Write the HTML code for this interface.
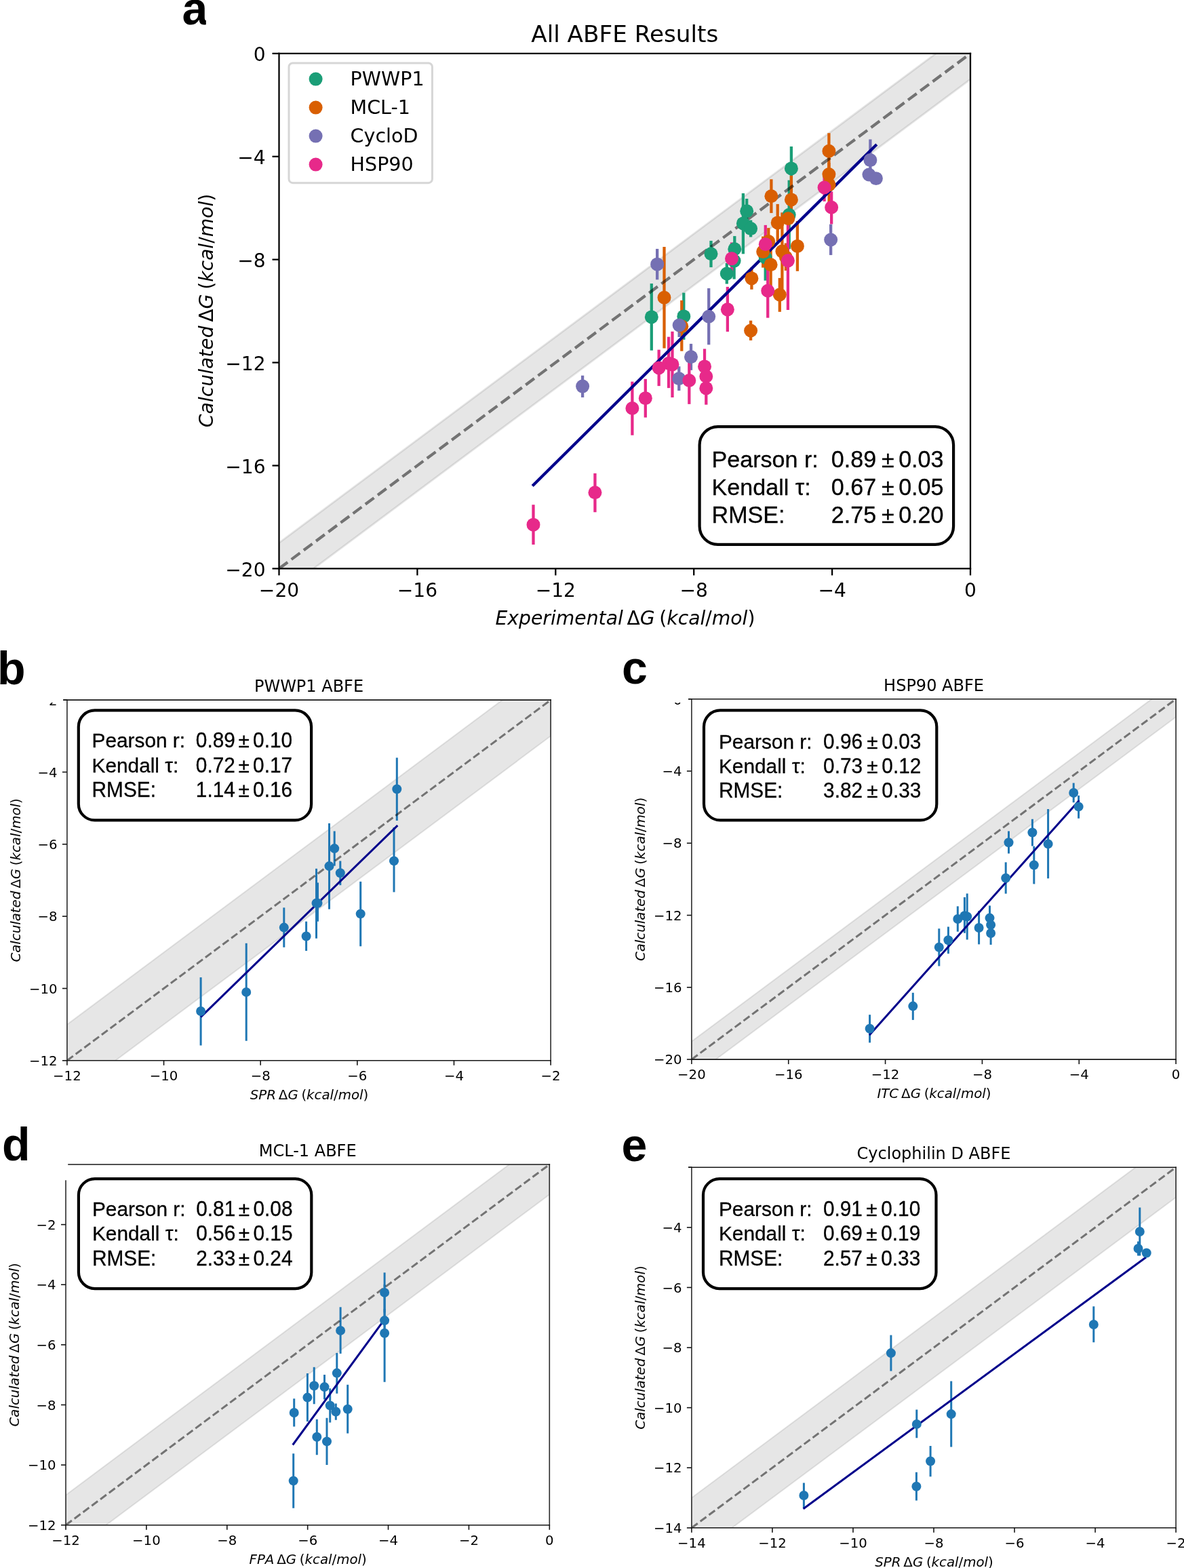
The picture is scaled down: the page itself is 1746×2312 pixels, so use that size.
<!DOCTYPE html>
<html lang="en"><head><meta charset="utf-8"><title>ABFE Results</title>
<style>html,body{margin:0;padding:0;background:#fff}svg{display:block}</style></head>
<body>
<svg width="1746" height="2312" viewBox="0 0 1746 2312">
<rect width="1746" height="2312" fill="#fff"/>
<clipPath id="clipa"><rect x="411.5" y="78.9" width="1019.5" height="759.5"/></clipPath>
<g clip-path="url(#clipa)">
<polygon points="411.5,876.38 1431,116.88 1431,40.93 411.5,800.42" fill="#808080" fill-opacity="0.2" stroke="#808080" stroke-opacity="0.2" stroke-width="2.85"/>
<line x1="960.8" x2="960.8" y1="418.1" y2="516.7" stroke="#1b9e77" stroke-width="4.28"/>
<line x1="1008.3" x2="1008.3" y1="431.7" y2="500.9" stroke="#1b9e77" stroke-width="4.28"/>
<line x1="1048.5" x2="1048.5" y1="355" y2="394.1" stroke="#1b9e77" stroke-width="4.28"/>
<line x1="1071.8" x2="1071.8" y1="387.9" y2="418.6" stroke="#1b9e77" stroke-width="4.28"/>
<line x1="1083.3" x2="1083.3" y1="348.1" y2="386.3" stroke="#1b9e77" stroke-width="4.28"/>
<line x1="1082.6" x2="1082.6" y1="357.6" y2="411.6" stroke="#1b9e77" stroke-width="4.28"/>
<line x1="1095.9" x2="1095.9" y1="285" y2="374.4" stroke="#1b9e77" stroke-width="4.28"/>
<line x1="1101.2" x2="1101.2" y1="293" y2="329.4" stroke="#1b9e77" stroke-width="4.28"/>
<line x1="1107.1" x2="1107.1" y1="324.6" y2="349.5" stroke="#1b9e77" stroke-width="4.28"/>
<line x1="1128.7" x2="1128.7" y1="346" y2="413.7" stroke="#1b9e77" stroke-width="4.28"/>
<line x1="1163.7" x2="1163.7" y1="265.7" y2="367.2" stroke="#1b9e77" stroke-width="4.28"/>
<line x1="1166.9" x2="1166.9" y1="215.9" y2="280.9" stroke="#1b9e77" stroke-width="4.28"/>
<line x1="979.5" x2="979.5" y1="364" y2="513.4" stroke="#d95f02" stroke-width="4.28"/>
<line x1="1005.3" x2="1005.3" y1="442.9" y2="517.7" stroke="#d95f02" stroke-width="4.28"/>
<line x1="1107.1" x2="1107.1" y1="472.7" y2="501.9" stroke="#d95f02" stroke-width="4.28"/>
<line x1="1108.4" x2="1108.4" y1="394.3" y2="426.8" stroke="#d95f02" stroke-width="4.28"/>
<line x1="1125.2" x2="1125.2" y1="348.6" y2="394.6" stroke="#d95f02" stroke-width="4.28"/>
<line x1="1133.3" x2="1133.3" y1="336.1" y2="376" stroke="#d95f02" stroke-width="4.28"/>
<line x1="1136.6" x2="1136.6" y1="358" y2="422" stroke="#d95f02" stroke-width="4.28"/>
<line x1="1137.4" x2="1137.4" y1="264.3" y2="314.1" stroke="#d95f02" stroke-width="4.28"/>
<line x1="1146.7" x2="1146.7" y1="300.9" y2="356" stroke="#d95f02" stroke-width="4.28"/>
<line x1="1149.8" x2="1149.8" y1="409.9" y2="459.8" stroke="#d95f02" stroke-width="4.28"/>
<line x1="1153.4" x2="1153.4" y1="313.4" y2="427" stroke="#d95f02" stroke-width="4.28"/>
<line x1="1158.9" x2="1158.9" y1="358.5" y2="399" stroke="#d95f02" stroke-width="4.28"/>
<line x1="1162.3" x2="1162.3" y1="310" y2="334" stroke="#d95f02" stroke-width="4.28"/>
<line x1="1166.9" x2="1166.9" y1="259" y2="330" stroke="#d95f02" stroke-width="4.28"/>
<line x1="1175.9" x2="1175.9" y1="326" y2="399.8" stroke="#d95f02" stroke-width="4.28"/>
<line x1="1222.4" x2="1222.4" y1="196.2" y2="249.4" stroke="#d95f02" stroke-width="4.28"/>
<line x1="1222.4" x2="1222.4" y1="240" y2="274" stroke="#d95f02" stroke-width="4.28"/>
<line x1="1222.6" x2="1222.6" y1="250" y2="298.2" stroke="#d95f02" stroke-width="4.28"/>
<line x1="859.1" x2="859.1" y1="553.72" y2="585.95" stroke="#7570b3" stroke-width="4.28"/>
<line x1="969.16" x2="969.16" y1="366.93" y2="412.36" stroke="#7570b3" stroke-width="4.28"/>
<line x1="1001.62" x2="1001.62" y1="461.22" y2="496.97" stroke="#7570b3" stroke-width="4.28"/>
<line x1="1001.27" x2="1001.27" y1="540.26" y2="576" stroke="#7570b3" stroke-width="4.28"/>
<line x1="1019" x2="1019" y1="506.91" y2="545.83" stroke="#7570b3" stroke-width="4.28"/>
<line x1="1045.21" x2="1045.21" y1="425.05" y2="508.28" stroke="#7570b3" stroke-width="4.28"/>
<line x1="1225.16" x2="1225.16" y1="330.67" y2="376.1" stroke="#7570b3" stroke-width="4.28"/>
<line x1="1283.4" x2="1283.4" y1="205.6" y2="266.63" stroke="#7570b3" stroke-width="4.28"/>
<line x1="1281.43" x2="1281.43" y1="248.46" y2="266.63" stroke="#7570b3" stroke-width="4.28"/>
<line x1="1291.88" x2="1291.88" y1="259.69" y2="266.55" stroke="#7570b3" stroke-width="4.28"/>
<line x1="786.5" x2="786.5" y1="744.21" y2="803.1" stroke="#e7298a" stroke-width="4.28"/>
<line x1="877.43" x2="877.43" y1="697.91" y2="755.22" stroke="#e7298a" stroke-width="4.28"/>
<line x1="932.38" x2="932.38" y1="562.7" y2="641.74" stroke="#e7298a" stroke-width="4.28"/>
<line x1="951.8" x2="951.8" y1="558.84" y2="615.58" stroke="#e7298a" stroke-width="4.28"/>
<line x1="971.64" x2="971.64" y1="515.68" y2="569.13" stroke="#e7298a" stroke-width="4.28"/>
<line x1="986.06" x2="986.06" y1="496.67" y2="572.13" stroke="#e7298a" stroke-width="4.28"/>
<line x1="991.48" x2="991.48" y1="488.81" y2="586" stroke="#e7298a" stroke-width="4.28"/>
<line x1="1016.32" x2="1016.32" y1="525.4" y2="595.86" stroke="#e7298a" stroke-width="4.28"/>
<line x1="1039.02" x2="1039.02" y1="514.39" y2="566.41" stroke="#e7298a" stroke-width="4.28"/>
<line x1="1041.3" x2="1041.3" y1="535.26" y2="574.7" stroke="#e7298a" stroke-width="4.28"/>
<line x1="1041.3" x2="1041.3" y1="548.12" y2="596.71" stroke="#e7298a" stroke-width="4.28"/>
<line x1="1072.85" x2="1072.85" y1="422.92" y2="489.09" stroke="#e7298a" stroke-width="4.28"/>
<line x1="1078.99" x2="1078.99" y1="357.46" y2="404.62" stroke="#e7298a" stroke-width="4.28"/>
<line x1="1128.8" x2="1128.8" y1="331.88" y2="388.62" stroke="#e7298a" stroke-width="4.28"/>
<line x1="1132.23" x2="1132.23" y1="389.19" y2="468.65" stroke="#e7298a" stroke-width="4.28"/>
<line x1="1161.92" x2="1161.92" y1="311.01" y2="457.08" stroke="#e7298a" stroke-width="4.28"/>
<line x1="1215.59" x2="1215.59" y1="255.7" y2="297" stroke="#e7298a" stroke-width="4.28"/>
<line x1="1226.16" x2="1226.16" y1="282.42" y2="330.45" stroke="#e7298a" stroke-width="4.28"/>
<line x1="411.5" y1="838.4" x2="1431" y2="78.9" stroke="#000" stroke-opacity="0.5" stroke-width="4.28" stroke-dasharray="15.83 6.85"/>
<line x1="785.2" y1="716.6" x2="1292.8" y2="213" stroke="#00008b" stroke-width="4.28"/>
<circle cx="960.8" cy="467.4" r="9.99" fill="#1b9e77"/>
<circle cx="1008.3" cy="466.4" r="9.99" fill="#1b9e77"/>
<circle cx="1048.5" cy="374.3" r="9.99" fill="#1b9e77"/>
<circle cx="1071.8" cy="403.5" r="9.99" fill="#1b9e77"/>
<circle cx="1083.3" cy="367.2" r="9.99" fill="#1b9e77"/>
<circle cx="1082.6" cy="384.6" r="9.99" fill="#1b9e77"/>
<circle cx="1095.9" cy="329.4" r="9.99" fill="#1b9e77"/>
<circle cx="1101.2" cy="311.2" r="9.99" fill="#1b9e77"/>
<circle cx="1107.1" cy="337.1" r="9.99" fill="#1b9e77"/>
<circle cx="1128.7" cy="379.7" r="9.99" fill="#1b9e77"/>
<circle cx="1163.7" cy="316.7" r="9.99" fill="#1b9e77"/>
<circle cx="1166.9" cy="248.4" r="9.99" fill="#1b9e77"/>
<circle cx="979.5" cy="438.8" r="9.99" fill="#d95f02"/>
<circle cx="1005.3" cy="481.3" r="9.99" fill="#d95f02"/>
<circle cx="1107.1" cy="487.5" r="9.99" fill="#d95f02"/>
<circle cx="1108.4" cy="410.4" r="9.99" fill="#d95f02"/>
<circle cx="1125.2" cy="371.1" r="9.99" fill="#d95f02"/>
<circle cx="1133.3" cy="356" r="9.99" fill="#d95f02"/>
<circle cx="1136.6" cy="390.2" r="9.99" fill="#d95f02"/>
<circle cx="1137.4" cy="289.3" r="9.99" fill="#d95f02"/>
<circle cx="1146.7" cy="328.4" r="9.99" fill="#d95f02"/>
<circle cx="1149.8" cy="434.5" r="9.99" fill="#d95f02"/>
<circle cx="1153.4" cy="370.6" r="9.99" fill="#d95f02"/>
<circle cx="1158.9" cy="379.2" r="9.99" fill="#d95f02"/>
<circle cx="1162.3" cy="322.2" r="9.99" fill="#d95f02"/>
<circle cx="1166.9" cy="294.4" r="9.99" fill="#d95f02"/>
<circle cx="1175.9" cy="362.9" r="9.99" fill="#d95f02"/>
<circle cx="1222.4" cy="222.8" r="9.99" fill="#d95f02"/>
<circle cx="1222.4" cy="257.1" r="9.99" fill="#d95f02"/>
<circle cx="1222.6" cy="272.4" r="9.99" fill="#d95f02"/>
<circle cx="859.1" cy="569.57" r="9.99" fill="#7570b3"/>
<circle cx="969.16" cy="389.64" r="9.99" fill="#7570b3"/>
<circle cx="1001.62" cy="479.48" r="9.99" fill="#7570b3"/>
<circle cx="1001.27" cy="558.26" r="9.99" fill="#7570b3"/>
<circle cx="1019" cy="526.28" r="9.99" fill="#7570b3"/>
<circle cx="1045.21" cy="466.79" r="9.99" fill="#7570b3"/>
<circle cx="1225.16" cy="353.55" r="9.99" fill="#7570b3"/>
<circle cx="1283.4" cy="236.11" r="9.99" fill="#7570b3"/>
<circle cx="1281.43" cy="257.55" r="9.99" fill="#7570b3"/>
<circle cx="1291.88" cy="263.12" r="9.99" fill="#7570b3"/>
<circle cx="786.5" cy="773.66" r="9.99" fill="#e7298a"/>
<circle cx="877.43" cy="726.2" r="9.99" fill="#e7298a"/>
<circle cx="932.38" cy="602" r="9.99" fill="#e7298a"/>
<circle cx="951.8" cy="587.14" r="9.99" fill="#e7298a"/>
<circle cx="971.64" cy="542.4" r="9.99" fill="#e7298a"/>
<circle cx="986.06" cy="535.69" r="9.99" fill="#e7298a"/>
<circle cx="991.48" cy="537.4" r="9.99" fill="#e7298a"/>
<circle cx="1016.32" cy="560.98" r="9.99" fill="#e7298a"/>
<circle cx="1039.02" cy="540.4" r="9.99" fill="#e7298a"/>
<circle cx="1041.3" cy="554.98" r="9.99" fill="#e7298a"/>
<circle cx="1041.3" cy="572.42" r="9.99" fill="#e7298a"/>
<circle cx="1072.85" cy="456.36" r="9.99" fill="#e7298a"/>
<circle cx="1078.99" cy="381.33" r="9.99" fill="#e7298a"/>
<circle cx="1128.8" cy="360.18" r="9.99" fill="#e7298a"/>
<circle cx="1132.23" cy="428.78" r="9.99" fill="#e7298a"/>
<circle cx="1161.92" cy="384.33" r="9.99" fill="#e7298a"/>
<circle cx="1215.59" cy="276.56" r="9.99" fill="#e7298a"/>
<circle cx="1226.16" cy="305.72" r="9.99" fill="#e7298a"/>
</g>
<g stroke="#000" stroke-width="2.28" fill="none">
<line x1="411.5" y1="77.76" x2="411.5" y2="839.54" stroke="#000"/>
<line x1="1431" y1="77.76" x2="1431" y2="839.54" stroke="#000"/>
<line x1="410.36" y1="78.9" x2="1432.14" y2="78.9"/>
<line x1="410.36" y1="838.4" x2="1432.14" y2="838.4"/>
</g>
<g stroke="#000" stroke-width="2.28">
<line x1="411.5" y1="838.4" x2="411.5" y2="848.39"/>
<line x1="615.4" y1="838.4" x2="615.4" y2="848.39"/>
<line x1="819.3" y1="838.4" x2="819.3" y2="848.39"/>
<line x1="1023.2" y1="838.4" x2="1023.2" y2="848.39"/>
<line x1="1227.1" y1="838.4" x2="1227.1" y2="848.39"/>
<line x1="1431" y1="838.4" x2="1431" y2="848.39"/>
<line x1="401.51" y1="838.4" x2="411.5" y2="838.4"/>
<line x1="401.51" y1="686.5" x2="411.5" y2="686.5"/>
<line x1="401.51" y1="534.6" x2="411.5" y2="534.6"/>
<line x1="401.51" y1="382.7" x2="411.5" y2="382.7"/>
<line x1="401.51" y1="230.8" x2="411.5" y2="230.8"/>
<line x1="401.51" y1="78.9" x2="411.5" y2="78.9"/>
</g>
<g font-family="'DejaVu Sans','Liberation Sans',sans-serif" font-size="28.53" fill="#000">
<text transform="translate(411.5,880.15) scale(0.985,1)" text-anchor="middle">−20</text>
<text transform="translate(615.4,880.15) scale(0.985,1)" text-anchor="middle">−16</text>
<text transform="translate(819.3,880.15) scale(0.985,1)" text-anchor="middle">−12</text>
<text transform="translate(1023.2,880.15) scale(0.985,1)" text-anchor="middle">−8</text>
<text transform="translate(1227.1,880.15) scale(0.985,1)" text-anchor="middle">−4</text>
<text transform="translate(1431,880.15) scale(0.985,1)" text-anchor="middle">0</text>
<text transform="translate(391.53,849.64) scale(0.985,1)" text-anchor="end">−20</text>
<text transform="translate(391.53,697.74) scale(0.985,1)" text-anchor="end">−16</text>
<text transform="translate(391.53,545.84) scale(0.985,1)" text-anchor="end">−12</text>
<text transform="translate(391.53,393.94) scale(0.985,1)" text-anchor="end">−8</text>
<text transform="translate(391.53,242.04) scale(0.985,1)" text-anchor="end">−4</text>
<text transform="translate(391.53,90.14) scale(0.985,1)" text-anchor="end">0</text>
</g>
<text x="921.25" y="61.78" text-anchor="middle" font-family="'DejaVu Sans','Liberation Sans',sans-serif" font-size="34.24" fill="#000">All ABFE Results</text>
<text x="922" y="920.9" text-anchor="middle" font-family="'DejaVu Sans','Liberation Sans',sans-serif" font-size="28.24" fill="#000" style="font-kerning:none"><tspan font-style="italic">Experimental </tspan><tspan dx="-3.33">Δ</tspan><tspan font-style="italic">G </tspan><tspan dx="-2.34">(</tspan><tspan font-style="italic">kcal</tspan><tspan>/</tspan><tspan font-style="italic">mol</tspan><tspan>)</tspan></text>
<text transform="translate(313.5,457.9) rotate(-90)" text-anchor="middle" font-family="'DejaVu Sans','Liberation Sans',sans-serif" font-size="28.24" fill="#000" style="font-kerning:none"><tspan font-style="italic">Calculated </tspan><tspan dx="-3.33">Δ</tspan><tspan font-style="italic">G </tspan><tspan dx="-2.34">(</tspan><tspan font-style="italic">kcal</tspan><tspan>/</tspan><tspan font-style="italic">mol</tspan><tspan>)</tspan></text>
<rect x="426.0" y="93.0" width="211.4" height="176.7" rx="5.7" ry="5.7" fill="#fff" fill-opacity="0.8" stroke="#ccc" stroke-opacity="0.8" stroke-width="3.0"/>
<circle cx="465.6" cy="116.6" r="9.99" fill="#1b9e77"/>
<text x="516.6" y="125.9" font-family="'DejaVu Sans','Liberation Sans',sans-serif" font-size="28.53" fill="#000">PWWP1</text>
<circle cx="465.6" cy="158.6" r="9.99" fill="#d95f02"/>
<text x="516.6" y="167.9" font-family="'DejaVu Sans','Liberation Sans',sans-serif" font-size="28.53" fill="#000">MCL-1</text>
<circle cx="465.6" cy="200.6" r="9.99" fill="#7570b3"/>
<text x="516.6" y="209.9" font-family="'DejaVu Sans','Liberation Sans',sans-serif" font-size="28.53" fill="#000">CycloD</text>
<circle cx="465.6" cy="242.6" r="9.99" fill="#e7298a"/>
<text x="516.6" y="251.9" font-family="'DejaVu Sans','Liberation Sans',sans-serif" font-size="28.53" fill="#000">HSP90</text>
<rect x="1031.6" y="629.1" width="374.5" height="173.8" rx="27" ry="27" fill="#fff" stroke="#000" stroke-width="4.2"/>
<g font-family="'Liberation Sans','DejaVu Sans',sans-serif" font-size="34.1" fill="#000" stroke="#000" stroke-width="0.3" stroke-linejoin="round">
<text x="1049.6" y="689.2">Pearson r:</text>
<text transform="translate(1292.1,689.2) scale(1,1.04)" text-anchor="end">0.89</text>
<text x="1309.4" y="689.2" text-anchor="middle">±</text>
<text transform="translate(1391.5,689.2) scale(1,1.04)" text-anchor="end">0.03</text>
<text x="1049.6" y="730.1">Kendall τ:</text>
<text transform="translate(1292.1,730.1) scale(1,1.04)" text-anchor="end">0.67</text>
<text x="1309.4" y="730.1" text-anchor="middle">±</text>
<text transform="translate(1391.5,730.1) scale(1,1.04)" text-anchor="end">0.05</text>
<text transform="translate(1049.6,771) scale(1,1.04)">RMSE:</text>
<text transform="translate(1292.1,771) scale(1,1.04)" text-anchor="end">2.75</text>
<text x="1309.4" y="771" text-anchor="middle">±</text>
<text transform="translate(1391.5,771) scale(1,1.04)" text-anchor="end">0.20</text>
</g>
<clipPath id="pla"><rect x="0" y="0" width="303.8" height="60"/></clipPath>
<text x="268.4" y="36.15" font-family="'Liberation Sans','DejaVu Sans',sans-serif" font-weight="bold" font-size="68" fill="#000" clip-path="url(#pla)">a</text>
<clipPath id="clipb"><rect x="98.9" y="1032.1" width="713.2" height="531.7"/></clipPath>
<g clip-path="url(#clipb)">
<polygon points="98.9,1616.97 812.1,1085.27 812.1,978.93 98.9,1510.63" fill="#808080" fill-opacity="0.2" stroke="#808080" stroke-opacity="0.2" stroke-width="2"/>
<line x1="296.1" x2="296.1" y1="1441.1" y2="1541.5" stroke="#1f77b4" stroke-width="3"/>
<line x1="363.2" x2="363.2" y1="1390.8" y2="1534.8" stroke="#1f77b4" stroke-width="3"/>
<line x1="418.8" x2="418.8" y1="1338.3" y2="1396.8" stroke="#1f77b4" stroke-width="3"/>
<line x1="451.6" x2="451.6" y1="1358.7" y2="1402" stroke="#1f77b4" stroke-width="3"/>
<line x1="466.5" x2="466.5" y1="1280.8" y2="1383.7" stroke="#1f77b4" stroke-width="3"/>
<line x1="468.5" x2="468.5" y1="1301.5" y2="1358.7" stroke="#1f77b4" stroke-width="3"/>
<line x1="485.5" x2="485.5" y1="1214" y2="1340.6" stroke="#1f77b4" stroke-width="3"/>
<line x1="493.2" x2="493.2" y1="1225.6" y2="1276.7" stroke="#1f77b4" stroke-width="3"/>
<line x1="501.8" x2="501.8" y1="1269.4" y2="1305.2" stroke="#1f77b4" stroke-width="3"/>
<line x1="531.7" x2="531.7" y1="1299.9" y2="1395.3" stroke="#1f77b4" stroke-width="3"/>
<line x1="581" x2="581" y1="1220.1" y2="1315.4" stroke="#1f77b4" stroke-width="3"/>
<line x1="585.3" x2="585.3" y1="1117.3" y2="1209.9" stroke="#1f77b4" stroke-width="3"/>
<line x1="98.9" y1="1563.8" x2="812.1" y2="1032.1" stroke="#000" stroke-opacity="0.5" stroke-width="3" stroke-dasharray="11.1 4.8"/>
<line x1="296.1" y1="1499.6" x2="586.3" y2="1217.1" stroke="#00008b" stroke-width="3"/>
<circle cx="296.1" cy="1491" r="7" fill="#1f77b4"/>
<circle cx="363.2" cy="1462.9" r="7" fill="#1f77b4"/>
<circle cx="418.8" cy="1367.6" r="7" fill="#1f77b4"/>
<circle cx="451.6" cy="1380.5" r="7" fill="#1f77b4"/>
<circle cx="466.5" cy="1331.8" r="7" fill="#1f77b4"/>
<circle cx="468.5" cy="1331.8" r="7" fill="#1f77b4"/>
<circle cx="485.5" cy="1277.1" r="7" fill="#1f77b4"/>
<circle cx="493.2" cy="1251.1" r="7" fill="#1f77b4"/>
<circle cx="501.8" cy="1287.3" r="7" fill="#1f77b4"/>
<circle cx="531.7" cy="1347.4" r="7" fill="#1f77b4"/>
<circle cx="581" cy="1269.4" r="7" fill="#1f77b4"/>
<circle cx="585.3" cy="1163.5" r="7" fill="#1f77b4"/>
</g>
<clipPath id="toplabb"><rect x="0" y="1036.0" width="98.9" height="40"/></clipPath>
<g stroke="#161616" stroke-width="1.6" fill="none">
<line x1="98.9" y1="1031.3" x2="98.9" y2="1564.6" stroke="#2b2b2b"/>
<line x1="812.1" y1="1031.3" x2="812.1" y2="1564.6" stroke="#2b2b2b"/>
<line x1="93.2" y1="1032.1" x2="812.9" y2="1032.1"/>
<line x1="98.1" y1="1563.8" x2="812.9" y2="1563.8"/>
</g>
<g stroke="#161616" stroke-width="1.6">
<line x1="98.9" y1="1563.8" x2="98.9" y2="1570.8"/>
<line x1="241.54" y1="1563.8" x2="241.54" y2="1570.8"/>
<line x1="384.18" y1="1563.8" x2="384.18" y2="1570.8"/>
<line x1="526.82" y1="1563.8" x2="526.82" y2="1570.8"/>
<line x1="669.46" y1="1563.8" x2="669.46" y2="1570.8"/>
<line x1="812.1" y1="1563.8" x2="812.1" y2="1570.8"/>
<line x1="91.9" y1="1563.8" x2="98.9" y2="1563.8"/>
<line x1="91.9" y1="1457.46" x2="98.9" y2="1457.46"/>
<line x1="91.9" y1="1351.12" x2="98.9" y2="1351.12"/>
<line x1="91.9" y1="1244.78" x2="98.9" y2="1244.78"/>
<line x1="91.9" y1="1138.44" x2="98.9" y2="1138.44"/>
<line x1="93.2" y1="1032.1" x2="98.9" y2="1032.1"/>
</g>
<g font-family="'DejaVu Sans','Liberation Sans',sans-serif" font-size="20" fill="#000">
<text transform="translate(98.9,1593.1) scale(0.985,1)" text-anchor="middle">−12</text>
<text transform="translate(241.54,1593.1) scale(0.985,1)" text-anchor="middle">−10</text>
<text transform="translate(384.18,1593.1) scale(0.985,1)" text-anchor="middle">−8</text>
<text transform="translate(526.82,1593.1) scale(0.985,1)" text-anchor="middle">−6</text>
<text transform="translate(669.46,1593.1) scale(0.985,1)" text-anchor="middle">−4</text>
<text transform="translate(812.1,1593.1) scale(0.985,1)" text-anchor="middle">−2</text>
<text transform="translate(84.5,1571) scale(0.985,1)" text-anchor="end">−12</text>
<text transform="translate(84.5,1464.66) scale(0.985,1)" text-anchor="end">−10</text>
<text transform="translate(84.5,1358.32) scale(0.985,1)" text-anchor="end">−8</text>
<text transform="translate(84.5,1251.98) scale(0.985,1)" text-anchor="end">−6</text>
<text transform="translate(84.5,1145.64) scale(0.985,1)" text-anchor="end">−4</text>
<g clip-path="url(#toplabb)"><text transform="translate(84.5,1040.1) scale(0.985,1)" text-anchor="end">−2</text></g>
</g>
<text x="455.5" y="1020.1" text-anchor="middle" font-family="'DejaVu Sans','Liberation Sans',sans-serif" font-size="24" fill="#000">PWWP1 ABFE</text>
<text x="456" y="1620.6" text-anchor="middle" font-family="'DejaVu Sans','Liberation Sans',sans-serif" font-size="19.8" fill="#000" style="font-kerning:none"><tspan font-style="italic">SPR </tspan><tspan dx="-2.33">Δ</tspan><tspan font-style="italic">G </tspan><tspan dx="-1.64">(</tspan><tspan font-style="italic">kcal</tspan><tspan>/</tspan><tspan font-style="italic">mol</tspan><tspan>)</tspan></text>
<text transform="translate(29.9,1297.95) rotate(-90)" text-anchor="middle" font-family="'DejaVu Sans','Liberation Sans',sans-serif" font-size="19.8" fill="#000" style="font-kerning:none"><tspan font-style="italic">Calculated </tspan><tspan dx="-2.33">Δ</tspan><tspan font-style="italic">G </tspan><tspan dx="-1.64">(</tspan><tspan font-style="italic">kcal</tspan><tspan>/</tspan><tspan font-style="italic">mol</tspan><tspan>)</tspan></text>
<rect x="115.8" y="1047.4" width="343.3" height="162" rx="24" ry="24" fill="#fff" stroke="#000" stroke-width="4.2"/>
<g font-family="'Liberation Sans','DejaVu Sans',sans-serif" font-size="29.8" fill="#000" stroke="#000" stroke-width="0.3" stroke-linejoin="round">
<text x="135.6" y="1102.2">Pearson r:</text>
<text transform="translate(346.8,1102.2) scale(1,1.04)" text-anchor="end">0.89</text>
<text x="359.8" y="1102.2" text-anchor="middle">±</text>
<text transform="translate(431.1,1102.2) scale(1,1.04)" text-anchor="end">0.10</text>
<text x="135.6" y="1138.55">Kendall τ:</text>
<text transform="translate(346.8,1138.55) scale(1,1.04)" text-anchor="end">0.72</text>
<text x="359.8" y="1138.55" text-anchor="middle">±</text>
<text transform="translate(431.1,1138.55) scale(1,1.04)" text-anchor="end">0.17</text>
<text transform="translate(135.6,1174.9) scale(1,1.04)">RMSE:</text>
<text transform="translate(346.8,1174.9) scale(1,1.04)" text-anchor="end">1.14</text>
<text x="359.8" y="1174.9" text-anchor="middle">±</text>
<text transform="translate(431.1,1174.9) scale(1,1.04)" text-anchor="end">0.16</text>
</g>
<clipPath id="clipc"><rect x="1019.9" y="1030.7" width="714.2" height="531.4"/></clipPath>
<g clip-path="url(#clipc)">
<polygon points="1019.9,1588.67 1734.1,1057.27 1734.1,1004.13 1019.9,1535.53" fill="#808080" fill-opacity="0.2" stroke="#808080" stroke-opacity="0.2" stroke-width="2"/>
<line x1="1282.6" x2="1282.6" y1="1496.2" y2="1537.4" stroke="#1f77b4" stroke-width="3"/>
<line x1="1346.3" x2="1346.3" y1="1463.8" y2="1503.9" stroke="#1f77b4" stroke-width="3"/>
<line x1="1384.8" x2="1384.8" y1="1369.2" y2="1424.5" stroke="#1f77b4" stroke-width="3"/>
<line x1="1398.4" x2="1398.4" y1="1366.5" y2="1406.2" stroke="#1f77b4" stroke-width="3"/>
<line x1="1412.3" x2="1412.3" y1="1336.3" y2="1373.7" stroke="#1f77b4" stroke-width="3"/>
<line x1="1422.4" x2="1422.4" y1="1323" y2="1375.8" stroke="#1f77b4" stroke-width="3"/>
<line x1="1426.2" x2="1426.2" y1="1317.5" y2="1385.5" stroke="#1f77b4" stroke-width="3"/>
<line x1="1443.6" x2="1443.6" y1="1343.1" y2="1392.4" stroke="#1f77b4" stroke-width="3"/>
<line x1="1459.5" x2="1459.5" y1="1335.4" y2="1371.8" stroke="#1f77b4" stroke-width="3"/>
<line x1="1461.1" x2="1461.1" y1="1350" y2="1377.6" stroke="#1f77b4" stroke-width="3"/>
<line x1="1461.1" x2="1461.1" y1="1359" y2="1393" stroke="#1f77b4" stroke-width="3"/>
<line x1="1483.2" x2="1483.2" y1="1271.4" y2="1317.7" stroke="#1f77b4" stroke-width="3"/>
<line x1="1487.5" x2="1487.5" y1="1225.6" y2="1258.6" stroke="#1f77b4" stroke-width="3"/>
<line x1="1522.4" x2="1522.4" y1="1207.7" y2="1247.4" stroke="#1f77b4" stroke-width="3"/>
<line x1="1524.8" x2="1524.8" y1="1247.8" y2="1303.4" stroke="#1f77b4" stroke-width="3"/>
<line x1="1545.6" x2="1545.6" y1="1193.1" y2="1295.3" stroke="#1f77b4" stroke-width="3"/>
<line x1="1583.2" x2="1583.2" y1="1154.4" y2="1183.3" stroke="#1f77b4" stroke-width="3"/>
<line x1="1590.6" x2="1590.6" y1="1173.1" y2="1206.7" stroke="#1f77b4" stroke-width="3"/>
<line x1="1019.9" y1="1562.1" x2="1734.1" y2="1030.7" stroke="#000" stroke-opacity="0.5" stroke-width="3" stroke-dasharray="11.1 4.8"/>
<line x1="1282" y1="1526.3" x2="1591.4" y2="1180.2" stroke="#00008b" stroke-width="3"/>
<circle cx="1282.6" cy="1516.8" r="7" fill="#1f77b4"/>
<circle cx="1346.3" cy="1483.6" r="7" fill="#1f77b4"/>
<circle cx="1384.8" cy="1396.7" r="7" fill="#1f77b4"/>
<circle cx="1398.4" cy="1386.3" r="7" fill="#1f77b4"/>
<circle cx="1412.3" cy="1355" r="7" fill="#1f77b4"/>
<circle cx="1422.4" cy="1350.3" r="7" fill="#1f77b4"/>
<circle cx="1426.2" cy="1351.5" r="7" fill="#1f77b4"/>
<circle cx="1443.6" cy="1368" r="7" fill="#1f77b4"/>
<circle cx="1459.5" cy="1353.6" r="7" fill="#1f77b4"/>
<circle cx="1461.1" cy="1363.8" r="7" fill="#1f77b4"/>
<circle cx="1461.1" cy="1376" r="7" fill="#1f77b4"/>
<circle cx="1483.2" cy="1294.8" r="7" fill="#1f77b4"/>
<circle cx="1487.5" cy="1242.3" r="7" fill="#1f77b4"/>
<circle cx="1522.4" cy="1227.5" r="7" fill="#1f77b4"/>
<circle cx="1524.8" cy="1275.5" r="7" fill="#1f77b4"/>
<circle cx="1545.6" cy="1244.4" r="7" fill="#1f77b4"/>
<circle cx="1583.2" cy="1169" r="7" fill="#1f77b4"/>
<circle cx="1590.6" cy="1189.4" r="7" fill="#1f77b4"/>
</g>
<clipPath id="toplabc"><rect x="900" y="1036.1" width="119.9" height="40"/></clipPath>
<g stroke="#161616" stroke-width="1.6" fill="none">
<line x1="1019.9" y1="1029.9" x2="1019.9" y2="1562.9" stroke="#2b2b2b"/>
<line x1="1734.1" y1="1029.9" x2="1734.1" y2="1562.9" stroke="#2b2b2b"/>
<line x1="1015" y1="1030.7" x2="1734.9" y2="1030.7"/>
<line x1="1019.1" y1="1562.1" x2="1734.9" y2="1562.1"/>
</g>
<g stroke="#161616" stroke-width="1.6">
<line x1="1019.9" y1="1562.1" x2="1019.9" y2="1569.1"/>
<line x1="1162.74" y1="1562.1" x2="1162.74" y2="1569.1"/>
<line x1="1305.58" y1="1562.1" x2="1305.58" y2="1569.1"/>
<line x1="1448.42" y1="1562.1" x2="1448.42" y2="1569.1"/>
<line x1="1591.26" y1="1562.1" x2="1591.26" y2="1569.1"/>
<line x1="1734.1" y1="1562.1" x2="1734.1" y2="1569.1"/>
<line x1="1012.9" y1="1562.1" x2="1019.9" y2="1562.1"/>
<line x1="1012.9" y1="1455.82" x2="1019.9" y2="1455.82"/>
<line x1="1012.9" y1="1349.54" x2="1019.9" y2="1349.54"/>
<line x1="1012.9" y1="1243.26" x2="1019.9" y2="1243.26"/>
<line x1="1012.9" y1="1136.98" x2="1019.9" y2="1136.98"/>
<line x1="1015" y1="1030.7" x2="1019.9" y2="1030.7"/>
</g>
<g font-family="'DejaVu Sans','Liberation Sans',sans-serif" font-size="20" fill="#000">
<text transform="translate(1019.9,1591.4) scale(0.985,1)" text-anchor="middle">−20</text>
<text transform="translate(1162.74,1591.4) scale(0.985,1)" text-anchor="middle">−16</text>
<text transform="translate(1305.58,1591.4) scale(0.985,1)" text-anchor="middle">−12</text>
<text transform="translate(1448.42,1591.4) scale(0.985,1)" text-anchor="middle">−8</text>
<text transform="translate(1591.26,1591.4) scale(0.985,1)" text-anchor="middle">−4</text>
<text transform="translate(1734.1,1591.4) scale(0.985,1)" text-anchor="middle">0</text>
<text transform="translate(1005.5,1569.3) scale(0.985,1)" text-anchor="end">−20</text>
<text transform="translate(1005.5,1463.02) scale(0.985,1)" text-anchor="end">−16</text>
<text transform="translate(1005.5,1356.74) scale(0.985,1)" text-anchor="end">−12</text>
<text transform="translate(1005.5,1250.46) scale(0.985,1)" text-anchor="end">−8</text>
<text transform="translate(1005.5,1144.18) scale(0.985,1)" text-anchor="end">−4</text>
<g clip-path="url(#toplabc)"><text transform="translate(1005.5,1038.7) scale(0.985,1)" text-anchor="end">0</text></g>
</g>
<text x="1377" y="1018.7" text-anchor="middle" font-family="'DejaVu Sans','Liberation Sans',sans-serif" font-size="24" fill="#000">HSP90 ABFE</text>
<text x="1377.5" y="1618.9" text-anchor="middle" font-family="'DejaVu Sans','Liberation Sans',sans-serif" font-size="19.8" fill="#000" style="font-kerning:none"><tspan font-style="italic">ITC </tspan><tspan dx="-2.33">Δ</tspan><tspan font-style="italic">G </tspan><tspan dx="-1.64">(</tspan><tspan font-style="italic">kcal</tspan><tspan>/</tspan><tspan font-style="italic">mol</tspan><tspan>)</tspan></text>
<text transform="translate(950.9,1296.4) rotate(-90)" text-anchor="middle" font-family="'DejaVu Sans','Liberation Sans',sans-serif" font-size="19.8" fill="#000" style="font-kerning:none"><tspan font-style="italic">Calculated </tspan><tspan dx="-2.33">Δ</tspan><tspan font-style="italic">G </tspan><tspan dx="-1.64">(</tspan><tspan font-style="italic">kcal</tspan><tspan>/</tspan><tspan font-style="italic">mol</tspan><tspan>)</tspan></text>
<rect x="1038" y="1047.4" width="343.3" height="162" rx="24" ry="24" fill="#fff" stroke="#000" stroke-width="4.2"/>
<g font-family="'Liberation Sans','DejaVu Sans',sans-serif" font-size="29.8" fill="#000" stroke="#000" stroke-width="0.3" stroke-linejoin="round">
<text x="1060" y="1103.5">Pearson r:</text>
<text transform="translate(1272.1,1103.5) scale(1,1.04)" text-anchor="end">0.96</text>
<text x="1286.5" y="1103.5" text-anchor="middle">±</text>
<text transform="translate(1358.3,1103.5) scale(1,1.04)" text-anchor="end">0.03</text>
<text x="1060" y="1139.85">Kendall τ:</text>
<text transform="translate(1272.1,1139.85) scale(1,1.04)" text-anchor="end">0.73</text>
<text x="1286.5" y="1139.85" text-anchor="middle">±</text>
<text transform="translate(1358.3,1139.85) scale(1,1.04)" text-anchor="end">0.12</text>
<text transform="translate(1060,1176.2) scale(1,1.04)">RMSE:</text>
<text transform="translate(1272.1,1176.2) scale(1,1.04)" text-anchor="end">3.82</text>
<text x="1286.5" y="1176.2" text-anchor="middle">±</text>
<text transform="translate(1358.3,1176.2) scale(1,1.04)" text-anchor="end">0.33</text>
</g>
<clipPath id="clipd"><rect x="97" y="1717" width="713.3" height="531.7"/></clipPath>
<g clip-path="url(#clipd)">
<polygon points="97,2293.01 810.3,1761.31 810.3,1672.69 97,2204.39" fill="#808080" fill-opacity="0.2" stroke="#808080" stroke-opacity="0.2" stroke-width="2"/>
<line x1="432.7" x2="432.7" y1="2143.3" y2="2223.7" stroke="#1f77b4" stroke-width="3"/>
<line x1="433.7" x2="433.7" y1="2062.3" y2="2103.6" stroke="#1f77b4" stroke-width="3"/>
<line x1="453.4" x2="453.4" y1="2025" y2="2095.9" stroke="#1f77b4" stroke-width="3"/>
<line x1="463.2" x2="463.2" y1="2015.8" y2="2070.3" stroke="#1f77b4" stroke-width="3"/>
<line x1="467.3" x2="467.3" y1="2092.8" y2="2145.3" stroke="#1f77b4" stroke-width="3"/>
<line x1="478.5" x2="478.5" y1="2027" y2="2063.5" stroke="#1f77b4" stroke-width="3"/>
<line x1="482" x2="482" y1="2090.8" y2="2160" stroke="#1f77b4" stroke-width="3"/>
<line x1="486.7" x2="486.7" y1="2047.3" y2="2097.6" stroke="#1f77b4" stroke-width="3"/>
<line x1="495.3" x2="495.3" y1="2069.6" y2="2093.7" stroke="#1f77b4" stroke-width="3"/>
<line x1="496.8" x2="496.8" y1="1995" y2="2054.7" stroke="#1f77b4" stroke-width="3"/>
<line x1="502.1" x2="502.1" y1="1927.3" y2="1995.9" stroke="#1f77b4" stroke-width="3"/>
<line x1="512.7" x2="512.7" y1="2041.8" y2="2113.6" stroke="#1f77b4" stroke-width="3"/>
<line x1="567.1" x2="567.1" y1="1876.4" y2="1935.4" stroke="#1f77b4" stroke-width="3"/>
<line x1="567.1" x2="567.1" y1="1930" y2="1964" stroke="#1f77b4" stroke-width="3"/>
<line x1="567.1" x2="567.1" y1="1893.9" y2="2037.7" stroke="#1f77b4" stroke-width="3"/>
<line x1="97" y1="2248.7" x2="810.3" y2="1717" stroke="#000" stroke-opacity="0.5" stroke-width="3" stroke-dasharray="11.1 4.8"/>
<line x1="431.7" y1="2130.5" x2="563.6" y2="1950.1" stroke="#00008b" stroke-width="3"/>
<circle cx="432.7" cy="2183.4" r="7" fill="#1f77b4"/>
<circle cx="433.7" cy="2083" r="7" fill="#1f77b4"/>
<circle cx="453.4" cy="2060.6" r="7" fill="#1f77b4"/>
<circle cx="463.2" cy="2043.3" r="7" fill="#1f77b4"/>
<circle cx="467.3" cy="2118.7" r="7" fill="#1f77b4"/>
<circle cx="478.5" cy="2045.1" r="7" fill="#1f77b4"/>
<circle cx="482" cy="2125.4" r="7" fill="#1f77b4"/>
<circle cx="486.7" cy="2072.4" r="7" fill="#1f77b4"/>
<circle cx="495.3" cy="2081.5" r="7" fill="#1f77b4"/>
<circle cx="496.8" cy="2024.6" r="7" fill="#1f77b4"/>
<circle cx="502.1" cy="1961.9" r="7" fill="#1f77b4"/>
<circle cx="512.7" cy="2077.7" r="7" fill="#1f77b4"/>
<circle cx="567.1" cy="1905.9" r="7" fill="#1f77b4"/>
<circle cx="567.1" cy="1947.1" r="7" fill="#1f77b4"/>
<circle cx="567.1" cy="1965.8" r="7" fill="#1f77b4"/>
</g>
<g stroke="#161616" stroke-width="1.6" fill="none">
<line x1="97" y1="1740.2" x2="97" y2="2249.5" stroke="#2b2b2b"/>
<line x1="810.3" y1="1716.2" x2="810.3" y2="2249.5" stroke="#2b2b2b"/>
<line x1="100.2" y1="1717" x2="811.1" y2="1717"/>
<line x1="96.2" y1="2248.7" x2="811.1" y2="2248.7"/>
</g>
<g stroke="#161616" stroke-width="1.6">
<line x1="97" y1="2248.7" x2="97" y2="2255.7"/>
<line x1="215.88" y1="2248.7" x2="215.88" y2="2255.7"/>
<line x1="334.77" y1="2248.7" x2="334.77" y2="2255.7"/>
<line x1="453.65" y1="2248.7" x2="453.65" y2="2255.7"/>
<line x1="572.53" y1="2248.7" x2="572.53" y2="2255.7"/>
<line x1="691.42" y1="2248.7" x2="691.42" y2="2255.7"/>
<line x1="810.3" y1="2248.7" x2="810.3" y2="2255.7"/>
<line x1="90" y1="2248.7" x2="97" y2="2248.7"/>
<line x1="90" y1="2160.08" x2="97" y2="2160.08"/>
<line x1="90" y1="2071.47" x2="97" y2="2071.47"/>
<line x1="90" y1="1982.85" x2="97" y2="1982.85"/>
<line x1="90" y1="1894.23" x2="97" y2="1894.23"/>
<line x1="90" y1="1805.62" x2="97" y2="1805.62"/>
</g>
<g font-family="'DejaVu Sans','Liberation Sans',sans-serif" font-size="20" fill="#000">
<text transform="translate(97,2278) scale(0.985,1)" text-anchor="middle">−12</text>
<text transform="translate(215.88,2278) scale(0.985,1)" text-anchor="middle">−10</text>
<text transform="translate(334.77,2278) scale(0.985,1)" text-anchor="middle">−8</text>
<text transform="translate(453.65,2278) scale(0.985,1)" text-anchor="middle">−6</text>
<text transform="translate(572.53,2278) scale(0.985,1)" text-anchor="middle">−4</text>
<text transform="translate(691.42,2278) scale(0.985,1)" text-anchor="middle">−2</text>
<text transform="translate(810.3,2278) scale(0.985,1)" text-anchor="middle">0</text>
<text transform="translate(82.6,2255.9) scale(0.985,1)" text-anchor="end">−12</text>
<text transform="translate(82.6,2167.28) scale(0.985,1)" text-anchor="end">−10</text>
<text transform="translate(82.6,2078.67) scale(0.985,1)" text-anchor="end">−8</text>
<text transform="translate(82.6,1990.05) scale(0.985,1)" text-anchor="end">−6</text>
<text transform="translate(82.6,1901.43) scale(0.985,1)" text-anchor="end">−4</text>
<text transform="translate(82.6,1812.82) scale(0.985,1)" text-anchor="end">−2</text>
</g>
<text x="453.65" y="1705" text-anchor="middle" font-family="'DejaVu Sans','Liberation Sans',sans-serif" font-size="24" fill="#000">MCL-1 ABFE</text>
<text x="454.15" y="2305.5" text-anchor="middle" font-family="'DejaVu Sans','Liberation Sans',sans-serif" font-size="19.8" fill="#000" style="font-kerning:none"><tspan font-style="italic">FPA </tspan><tspan dx="-2.33">Δ</tspan><tspan font-style="italic">G </tspan><tspan dx="-1.64">(</tspan><tspan font-style="italic">kcal</tspan><tspan>/</tspan><tspan font-style="italic">mol</tspan><tspan>)</tspan></text>
<text transform="translate(28,1982.85) rotate(-90)" text-anchor="middle" font-family="'DejaVu Sans','Liberation Sans',sans-serif" font-size="19.8" fill="#000" style="font-kerning:none"><tspan font-style="italic">Calculated </tspan><tspan dx="-2.33">Δ</tspan><tspan font-style="italic">G </tspan><tspan dx="-1.64">(</tspan><tspan font-style="italic">kcal</tspan><tspan>/</tspan><tspan font-style="italic">mol</tspan><tspan>)</tspan></text>
<rect x="115.9" y="1738.1" width="343.4" height="162" rx="24" ry="24" fill="#fff" stroke="#000" stroke-width="4.2"/>
<g font-family="'Liberation Sans','DejaVu Sans',sans-serif" font-size="29.8" fill="#000" stroke="#000" stroke-width="0.3" stroke-linejoin="round">
<text x="136" y="1792.8">Pearson r:</text>
<text transform="translate(347.2,1792.8) scale(1,1.04)" text-anchor="end">0.81</text>
<text x="359.9" y="1792.8" text-anchor="middle">±</text>
<text transform="translate(431.5,1792.8) scale(1,1.04)" text-anchor="end">0.08</text>
<text x="136" y="1829.15">Kendall τ:</text>
<text transform="translate(347.2,1829.15) scale(1,1.04)" text-anchor="end">0.56</text>
<text x="359.9" y="1829.15" text-anchor="middle">±</text>
<text transform="translate(431.5,1829.15) scale(1,1.04)" text-anchor="end">0.15</text>
<text transform="translate(136,1865.5) scale(1,1.04)">RMSE:</text>
<text transform="translate(347.2,1865.5) scale(1,1.04)" text-anchor="end">2.33</text>
<text x="359.9" y="1865.5" text-anchor="middle">±</text>
<text transform="translate(431.5,1865.5) scale(1,1.04)" text-anchor="end">0.24</text>
</g>
<clipPath id="clipe"><rect x="1019.9" y="1721.2" width="714.2" height="531.6"/></clipPath>
<g clip-path="url(#clipe)">
<polygon points="1019.9,2297.1 1734.1,1765.5 1734.1,1676.9 1019.9,2208.5" fill="#808080" fill-opacity="0.2" stroke="#808080" stroke-opacity="0.2" stroke-width="2"/>
<line x1="1185.4" x2="1185.4" y1="2186.5" y2="2224.1" stroke="#1f77b4" stroke-width="3"/>
<line x1="1313.9" x2="1313.9" y1="1968.6" y2="2021.6" stroke="#1f77b4" stroke-width="3"/>
<line x1="1351.8" x2="1351.8" y1="2078.6" y2="2120.3" stroke="#1f77b4" stroke-width="3"/>
<line x1="1351.4" x2="1351.4" y1="2170.8" y2="2212.5" stroke="#1f77b4" stroke-width="3"/>
<line x1="1372.1" x2="1372.1" y1="2131.9" y2="2177.3" stroke="#1f77b4" stroke-width="3"/>
<line x1="1402.7" x2="1402.7" y1="2036.4" y2="2133.5" stroke="#1f77b4" stroke-width="3"/>
<line x1="1612.8" x2="1612.8" y1="1926.3" y2="1979.3" stroke="#1f77b4" stroke-width="3"/>
<line x1="1680.8" x2="1680.8" y1="1780.4" y2="1851.6" stroke="#1f77b4" stroke-width="3"/>
<line x1="1678.5" x2="1678.5" y1="1830.4" y2="1851.6" stroke="#1f77b4" stroke-width="3"/>
<line x1="1690.7" x2="1690.7" y1="1843.5" y2="1851.5" stroke="#1f77b4" stroke-width="3"/>
<line x1="1019.9" y1="2252.8" x2="1734.1" y2="1721.2" stroke="#000" stroke-opacity="0.5" stroke-width="3" stroke-dasharray="11.1 4.8"/>
<line x1="1184.6" y1="2224.7" x2="1690.1" y2="1853.7" stroke="#00008b" stroke-width="3"/>
<circle cx="1185.4" cy="2205" r="7" fill="#1f77b4"/>
<circle cx="1313.9" cy="1995.1" r="7" fill="#1f77b4"/>
<circle cx="1351.8" cy="2099.9" r="7" fill="#1f77b4"/>
<circle cx="1351.4" cy="2191.8" r="7" fill="#1f77b4"/>
<circle cx="1372.1" cy="2154.5" r="7" fill="#1f77b4"/>
<circle cx="1402.7" cy="2085.1" r="7" fill="#1f77b4"/>
<circle cx="1612.8" cy="1953" r="7" fill="#1f77b4"/>
<circle cx="1680.8" cy="1816" r="7" fill="#1f77b4"/>
<circle cx="1678.5" cy="1841" r="7" fill="#1f77b4"/>
<circle cx="1690.7" cy="1847.5" r="7" fill="#1f77b4"/>
</g>
<g stroke="#161616" stroke-width="1.6" fill="none">
<line x1="1019.9" y1="1720.4" x2="1019.9" y2="2253.6" stroke="#2b2b2b"/>
<line x1="1734.1" y1="1720.4" x2="1734.1" y2="2253.6" stroke="#2b2b2b"/>
<line x1="1015" y1="1721.2" x2="1734.9" y2="1721.2"/>
<line x1="1019.1" y1="2252.8" x2="1734.9" y2="2252.8"/>
</g>
<g stroke="#161616" stroke-width="1.6">
<line x1="1019.9" y1="2252.8" x2="1019.9" y2="2259.8"/>
<line x1="1138.93" y1="2252.8" x2="1138.93" y2="2259.8"/>
<line x1="1257.97" y1="2252.8" x2="1257.97" y2="2259.8"/>
<line x1="1377" y1="2252.8" x2="1377" y2="2259.8"/>
<line x1="1496.03" y1="2252.8" x2="1496.03" y2="2259.8"/>
<line x1="1615.07" y1="2252.8" x2="1615.07" y2="2259.8"/>
<line x1="1734.1" y1="2252.8" x2="1734.1" y2="2259.8"/>
<line x1="1012.9" y1="2252.8" x2="1019.9" y2="2252.8"/>
<line x1="1012.9" y1="2164.2" x2="1019.9" y2="2164.2"/>
<line x1="1012.9" y1="2075.6" x2="1019.9" y2="2075.6"/>
<line x1="1012.9" y1="1987" x2="1019.9" y2="1987"/>
<line x1="1012.9" y1="1898.4" x2="1019.9" y2="1898.4"/>
<line x1="1012.9" y1="1809.8" x2="1019.9" y2="1809.8"/>
<line x1="1015" y1="1721.2" x2="1019.9" y2="1721.2"/>
</g>
<g font-family="'DejaVu Sans','Liberation Sans',sans-serif" font-size="20" fill="#000">
<text transform="translate(1019.9,2282.1) scale(0.985,1)" text-anchor="middle">−14</text>
<text transform="translate(1138.93,2282.1) scale(0.985,1)" text-anchor="middle">−12</text>
<text transform="translate(1257.97,2282.1) scale(0.985,1)" text-anchor="middle">−10</text>
<text transform="translate(1377,2282.1) scale(0.985,1)" text-anchor="middle">−8</text>
<text transform="translate(1496.03,2282.1) scale(0.985,1)" text-anchor="middle">−6</text>
<text transform="translate(1615.07,2282.1) scale(0.985,1)" text-anchor="middle">−4</text>
<text transform="translate(1734.1,2282.1) scale(0.985,1)" text-anchor="middle">−2</text>
<text transform="translate(1005.5,2260) scale(0.985,1)" text-anchor="end">−14</text>
<text transform="translate(1005.5,2171.4) scale(0.985,1)" text-anchor="end">−12</text>
<text transform="translate(1005.5,2082.8) scale(0.985,1)" text-anchor="end">−10</text>
<text transform="translate(1005.5,1994.2) scale(0.985,1)" text-anchor="end">−8</text>
<text transform="translate(1005.5,1905.6) scale(0.985,1)" text-anchor="end">−6</text>
<text transform="translate(1005.5,1817) scale(0.985,1)" text-anchor="end">−4</text>
</g>
<text x="1377" y="1709.2" text-anchor="middle" font-family="'DejaVu Sans','Liberation Sans',sans-serif" font-size="24" fill="#000">Cyclophilin D ABFE</text>
<text x="1377.5" y="2309.6" text-anchor="middle" font-family="'DejaVu Sans','Liberation Sans',sans-serif" font-size="19.8" fill="#000" style="font-kerning:none"><tspan font-style="italic">SPR </tspan><tspan dx="-2.33">Δ</tspan><tspan font-style="italic">G </tspan><tspan dx="-1.64">(</tspan><tspan font-style="italic">kcal</tspan><tspan>/</tspan><tspan font-style="italic">mol</tspan><tspan>)</tspan></text>
<text transform="translate(950.9,1987) rotate(-90)" text-anchor="middle" font-family="'DejaVu Sans','Liberation Sans',sans-serif" font-size="19.8" fill="#000" style="font-kerning:none"><tspan font-style="italic">Calculated </tspan><tspan dx="-2.33">Δ</tspan><tspan font-style="italic">G </tspan><tspan dx="-1.64">(</tspan><tspan font-style="italic">kcal</tspan><tspan>/</tspan><tspan font-style="italic">mol</tspan><tspan>)</tspan></text>
<rect x="1037" y="1738.1" width="343.5" height="162" rx="24" ry="24" fill="#fff" stroke="#000" stroke-width="4.2"/>
<g font-family="'Liberation Sans','DejaVu Sans',sans-serif" font-size="29.8" fill="#000" stroke="#000" stroke-width="0.3" stroke-linejoin="round">
<text x="1060" y="1792.8">Pearson r:</text>
<text transform="translate(1271.9,1792.8) scale(1,1.04)" text-anchor="end">0.91</text>
<text x="1285.4" y="1792.8" text-anchor="middle">±</text>
<text transform="translate(1357.2,1792.8) scale(1,1.04)" text-anchor="end">0.10</text>
<text x="1060" y="1829.15">Kendall τ:</text>
<text transform="translate(1271.9,1829.15) scale(1,1.04)" text-anchor="end">0.69</text>
<text x="1285.4" y="1829.15" text-anchor="middle">±</text>
<text transform="translate(1357.2,1829.15) scale(1,1.04)" text-anchor="end">0.19</text>
<text transform="translate(1060,1865.5) scale(1,1.04)">RMSE:</text>
<text transform="translate(1271.9,1865.5) scale(1,1.04)" text-anchor="end">2.57</text>
<text x="1285.4" y="1865.5" text-anchor="middle">±</text>
<text transform="translate(1357.2,1865.5) scale(1,1.04)" text-anchor="end">0.33</text>
</g>
<text x="-4" y="1008.5" font-family="'Liberation Sans','DejaVu Sans',sans-serif" font-weight="bold" font-size="68" fill="#000">b</text>
<text x="917" y="1007.8" font-family="'Liberation Sans','DejaVu Sans',sans-serif" font-weight="bold" font-size="68" fill="#000">c</text>
<text x="3.1" y="1711.3" font-family="'Liberation Sans','DejaVu Sans',sans-serif" font-weight="bold" font-size="68" fill="#000">d</text>
<text x="916.6" y="1711.5" font-family="'Liberation Sans','DejaVu Sans',sans-serif" font-weight="bold" font-size="68" fill="#000">e</text>
</svg>
</body></html>
